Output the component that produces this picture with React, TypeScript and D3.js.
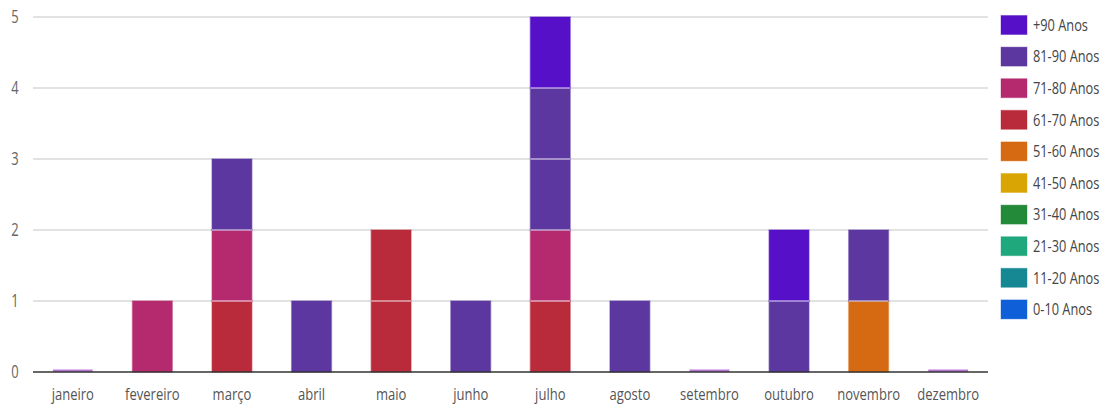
import React from "react";
import * as d3 from "d3";

const months = ["janeiro","fevereiro","março","abril","maio","junho","julho","agosto","setembro","outubro","novembro","dezembro"];
const groups = ["0-10 Anos","11-20 Anos","21-30 Anos","31-40 Anos","41-50 Anos","51-60 Anos","61-70 Anos","71-80 Anos","81-90 Anos","+90 Anos"];
const colors = ["#0f5fd9","#168893","#1fa87c","#238a3a","#d9a505","#d66a12","#b92b3a","#b52a6e","#5c37a0","#5510c8"];
// values per group, indexed by month
const g0_10 = [0,0,0,0,0,0,0,0,0,0,0,0];
const g11_20 = [0,0,0,0,0,0,0,0,0,0,0,0];
const g21_30 = [0,0,0,0,0,0,0,0,0,0,0,0];
const g31_40 = [0,0,0,0,0,0,0,0,0,0,0,0];
const g41_50 = [0,0,0,0,0,0,0,0,0,0,0,0];
const g51_60 = [0,0,0,0,0,0,0,0,0,0,1,0];
const g61_70 = [0,0,1,0,2,0,1,0,0,0,0,0];
const g71_80 = [0,1,1,0,0,0,1,0,0,0,0,0];
const g81_90 = [0,0,1,1,0,1,2,1,0,1,1,0];
const g90p = [0,0,0,0,0,0,1,0,0,1,0,0];
const yTicks = [0,1,2,3,4,5];

const series = [g0_10,g11_20,g21_30,g31_40,g41_50,g51_60,g61_70,g71_80,g81_90,g90p];

export default function App() {
  const W = 1116, H = 406;
  const left = 33, right = 988, top = 17, bottom = 372;
  const x = d3.scaleBand<string>().domain(months).range([left, right]).paddingInner(0.5).paddingOuter(0.25);
  const y = d3.scaleLinear().domain([0, 5]).range([bottom, top]);
  const rows = months.map((m, i) => {
    const o: any = { month: m };
    groups.forEach((g, k) => (o[g] = series[k][i]));
    return o;
  });
  const stacked = d3.stack<any>().keys(groups)(rows);
  const font = "'Open Sans', sans-serif";
  const sx = 0.79;
  return (
    <svg width={W} height={H} style={{ position: "absolute", left: 0, top: 0, background: "#fff" }}>
      {yTicks.map((t) => (
        <g key={t}>
          {t > 0 && <line x1={left} x2={right} y1={y(t)} y2={y(t)} stroke="#d9d9d9" strokeWidth={1.5} />}
          <g transform={`translate(15,${y(t)}) scale(0.72,1)`}>
            <text textAnchor="middle" dy="0.36em" fontFamily={font} fontSize={18} fill="#666">{t}</text>
          </g>
        </g>
      ))}
      {stacked.map((s, k) => (
        <g key={groups[k]} fill={colors[k]}>
          {s.map((d, i) => {
            const h = y(d[0]) - y(d[1]);
            if (h <= 0) return null;
            return (
              <rect key={i} x={x(months[i])} y={y(d[1])} width={x.bandwidth()} height={h}
                stroke={colors[k]} strokeOpacity={0.45} strokeWidth={1.5} />
            );
          })}
        </g>
      ))}
      {rows.map((r, i) => {
        const total = groups.reduce((a, g) => a + r[g], 0);
        return total === 0 ? (
          <rect key={"z" + i} x={x(months[i])} y={bottom - 2.5} width={x.bandwidth()} height={2.5} fill="#a455c8" opacity={0.8} />
        ) : null;
      })}
      {yTicks.filter((t) => t > 0).map((t) =>
        rows.map((r, i) => {
          const total = groups.reduce((a, g) => a + r[g], 0);
          return t < total ? (
            <line key={t + "-" + i} x1={x(months[i])} x2={(x(months[i]) as number) + x.bandwidth()} y1={y(t)} y2={y(t)} stroke="#ffffff" strokeOpacity={0.6} strokeWidth={1.5} />
          ) : null;
        })
      )}
      <line x1={left} x2={right} y1={bottom} y2={bottom} stroke="#333" strokeWidth={1.5} />
      {months.map((m) => (
        <g key={m} transform={`translate(${(x(m) as number) + x.bandwidth() / 2},${bottom + 28}) scale(${sx},1)`}>
          <text textAnchor="middle" fontFamily={font} fontSize={16.5} fill="#555">{m}</text>
        </g>
      ))}
      {groups.slice().reverse().map((g, j) => {
        const k = groups.length - 1 - j;
        const cy = 25 + j * 31.6;
        return (
          <g key={g}>
            <rect x={1001} y={cy - 9.5} width={26} height={19} fill={colors[k]} stroke={colors[k]} strokeOpacity={0.4} />
            <g transform={`translate(1033,${cy}) scale(${sx},1)`}>
              <text dy="0.36em" fontFamily={font} fontSize={16.2} fill="#444">{g}</text>
            </g>
          </g>
        );
      })}
    </svg>
  );
}
